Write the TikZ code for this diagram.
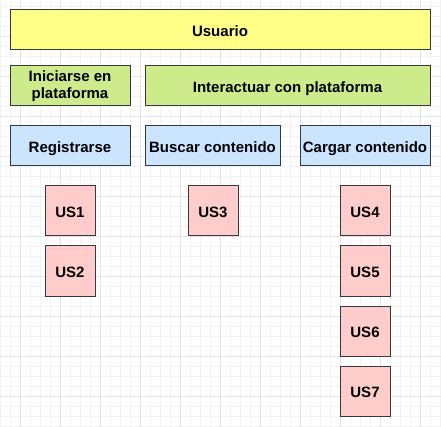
\documentclass[tikz,border=0pt]{standalone}
\usepackage{fontspec}
\setmainfont{Liberation Sans}
\usepackage{tikz}
\usetikzlibrary{positioning}
\definecolor{borde}{HTML}{36393D}
\definecolor{amarillo}{HTML}{FFFF88}
\definecolor{verde}{HTML}{CDEB8B}
\definecolor{azul}{HTML}{CCE5FF}
\definecolor{rosa}{HTML}{FFCCCC}
\tikzset{
    %Define base style for boxes
    caja/.style={
           rectangle,
           draw=borde, line width=1pt,
           inner sep=0pt, outer sep=0pt,
           align=center,
           font=\fontsize{15}{17}\selectfont\bfseries,
           minimum height=40pt},
    % single line boxes keep the same baseline
    linea/.style={text height=12.5pt, text depth=0pt},
    usuario/.style={caja, linea, fill=amarillo},
    modulo/.style={caja, fill=verde},
    funcion/.style={caja, linea, fill=azul},
    % Define style for user stories
    historia/.style={
           caja, linea,
           fill=rosa,
           minimum width=50pt,
           minimum height=50pt},
    % Define grid lines
    rejilla/.style={draw=black!5, line width=0.8pt},
    rejillamayor/.style={draw=black!11, line width=0.8pt}
}

\begin{document}
\begin{tikzpicture}[x=1pt,y=-1pt,node distance=10pt]
\useasboundingbox (0,0) rectangle (441,427);
% grid
\foreach \x in {0,10,...,440} \draw[rejilla] (\x,0) -- (\x,427);
\foreach \y in {6,16,...,426} \draw[rejilla] (0,\y) -- (441,\y);
\foreach \x in {20,60,...,420} \draw[rejillamayor] (\x,0) -- (\x,427);
\foreach \y in {36,76,...,396} \draw[rejillamayor] (0,\y) -- (441,\y);
% boxes
\node[usuario, minimum width=420pt](usr) at (220,30) {Usuario};
\node[modulo, minimum width=120pt](ini) at (70,86) {Iniciarse en\\plataforma};
\node[modulo, linea, minimum width=285pt](inter) at (287.5,86) {Interactuar con plataforma};
\node[funcion, minimum width=120pt](reg) at (70,146) {Registrarse};
\node[funcion, minimum width=135pt](busc) at (212.5,146) {Buscar contenido};
\node[funcion, minimum width=130pt](carg) at (365,146) {Cargar contenido};
\node[historia](us1) at (70,211) {US1};
\node[historia, below =of us1](us2) {US2};
\node[historia](us3) at (213,211) {US3};
\node[historia](us4) at (365,211) {US4};
\node[historia, below =of us4](us5) {US5};
\node[historia, below =of us5](us6) {US6};
\node[historia, below =of us6](us7) {US7};
\end{tikzpicture}
\end{document}
